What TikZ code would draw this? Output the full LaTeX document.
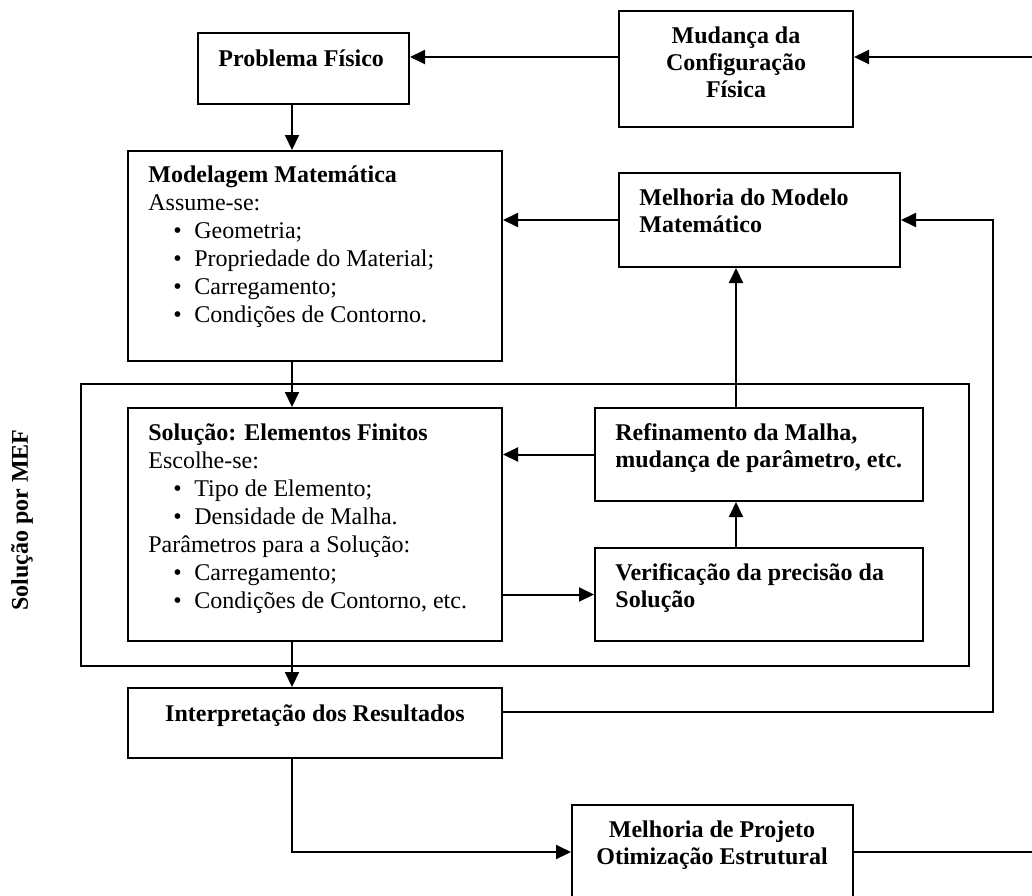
\documentclass[tikz,border=0pt]{standalone}
\usepackage{fontspec}
\setmainfont{Liberation Serif}
\usetikzlibrary{arrows.meta,fit}
% bullet line inside a list box
\newcommand\blt[1]{\hspace*{12.5pt}\makebox[10.5pt][l]{\textbullet}#1}
\begin{document}
\begin{tikzpicture}[x=0.5pt,y=-0.5pt,
  box/.style={draw,line width=1pt,inner sep=0pt},
  arr/.style={line width=1pt,-{Triangle[length=7.5pt,width=7pt]}},
  wire/.style={line width=1pt},
  txt/.style={inner sep=0pt,font=\fontsize{12}{13.5}\selectfont\bfseries},
  list/.style={inner sep=0pt,font=\fontsize{12}{14}\selectfont},
]
\useasboundingbox (0,0) rectangle (1032,895);
\clip (0,0) rectangle (1032,895);

% boxes
\node[box,fit={(198,33) (409,104)}] (pf) {};
\node[box,fit={(619,11) (853,127)}] (mud) {};
\node[box,fit={(128,151) (502,361)}] (mm) {};
\node[box,fit={(619,173) (900,267)}] (mmm) {};
\node[box,fit={(81,384) (969,666)}] (mef) {};
\node[box,fit={(128,408) (502,641)}] (sol) {};
\node[box,fit={(595,408) (923,501)}] (ref) {};
\node[box,fit={(595,548) (923,641)}] (ver) {};
\node[box,fit={(128,688) (502,758)}] (interp) {};
\node[box,fit={(572,805) (853,920)}] (proj) {};

% texts
\node[txt,anchor=base west] (pftext) at (218,66) {Problema Físico};
\node[txt,anchor=base] (mudtext) at (736,43)
  {\begin{tabular}[t]{@{}c@{}}Mudança da\\Configuração\\Física\end{tabular}};
\node[list,anchor=base west] (mmtext) at (148,182)
  {\begin{tabular}[t]{@{}l@{}}\textbf{Modelagem Matemática}\\
   Assume-se:\\
   \blt{Geometria;}\\
   \blt{Propriedade do Material;}\\
   \blt{Carregamento;}\\
   \blt{Condições de Contorno.}\end{tabular}};
\node[txt,anchor=base west] (mmmtext) at (639,205)
  {\begin{tabular}[t]{@{}l@{}}Melhoria do Modelo\\Matemático\end{tabular}};
\node[list,anchor=base west] (soltext) at (148,440)
  {\begin{tabular}[t]{@{}l@{}}\textbf{Solução: Elementos Finitos}\\
   Escolhe-se:\\
   \blt{Tipo de Elemento;}\\
   \blt{Densidade de Malha.}\\
   Parâmetros para a Solução:\\
   \blt{Carregamento;}\\
   \blt{Condições de Contorno, etc.}\end{tabular}};
\node[txt,anchor=base west] (reftext) at (615,440)
  {\begin{tabular}[t]{@{}l@{}}Refinamento da Malha,\\mudança de parâmetro, etc.\end{tabular}};
\node[txt,anchor=base west] (vertext) at (615,580)
  {\begin{tabular}[t]{@{}l@{}}Verificação da precisão da\\Solução\end{tabular}};
\node[txt,anchor=base] (interptext) at (315,721) {Interpretação dos Resultados};
\node[txt,anchor=base] (projtext) at (712,837)
  {\begin{tabular}[t]{@{}c@{}}Melhoria de Projeto\\Otimização Estrutural\end{tabular}};
\node[txt,rotate=90] (meftext) at (22,520) {Solução por MEF};

% routing references
\coordinate (rowTop) at (0,57);
\coordinate (colL) at (292,0);
\coordinate (colR) at (736,0);
\coordinate (edgeTop) at (1040,57);
\coordinate (loopR) at (993,712);
\coordinate (rowBot) at (0,852);
\coordinate (edgeBot) at (1040,852);

% connectors
\draw[arr] (edgeTop) -- (mud.east |- edgeTop);
\draw[arr] (mud.west |- rowTop) -- (pf.east |- rowTop);
\draw[arr] (pf.south -| colL) -- (mm.north -| colL);
\draw[arr] (mmm.west) -- (mm.east |- mmm.west);
\draw[arr] (mm.south -| colL) -- (sol.north -| colL);
\draw[arr] (ref.north -| colR) -- (mmm.south -| colR);
\draw[arr] (ref.west) -- (sol.east |- ref.west);
\draw[arr] (ver.north -| colR) -- (ref.south -| colR);
\draw[arr] (sol.east |- ver.west) -- (ver.west);
\draw[arr] (sol.south -| colL) -- (interp.north -| colL);
\draw[arr] (interp.east |- loopR) -- (loopR) |- (mmm.east);
\draw[arr] (interp.south -| colL) |- (proj.west |- rowBot);
\draw[wire] (proj.east |- rowBot) -- (edgeBot);
\end{tikzpicture}
\end{document}
